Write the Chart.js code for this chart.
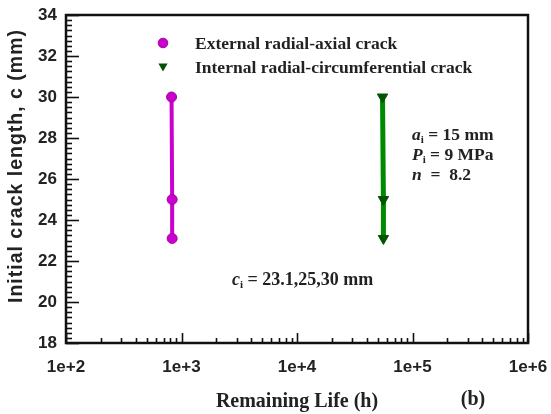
<!DOCTYPE html>
<html>
<head>
<meta charset="utf-8">
<script src="https://cdn.jsdelivr.net/npm/chart.js@4.4.1/dist/chart.umd.min.js"></script>
<style>
  html, body { margin: 0; padding: 0; background: #ffffff; }
  #wrap { width: 551px; height: 414px; }
</style>
</head>
<body>
<div id="wrap"><canvas id="c" width="551" height="414"></canvas></div>
<script>
// Remaining life (h) for each initial crack length c_i (mm)
const crackLengths = [30, 25, 23.1];
const externalLife = [820, 830, 830];
const internalLife = [55000, 56000, 56000];

const seriesNames = ['External radial-axial crack', 'Internal radial-circumferential crack'];
const yTickValues = [18, 20, 22, 24, 26, 28, 30, 32, 34];
const xDecades = [100, 1000, 10000, 100000, 1000000];

const SANS = '"Liberation Sans", Arial, sans-serif';
const SERIF = '"Liberation Serif", "Times New Roman", serif';

function toPoints(xs) {
  return xs.map((x, i) => ({ x: x, y: crackLengths[i] }));
}

// every decade plus its 2..9 subdivisions on the log axis
function logTickValues() {
  const out = [];
  for (let d = 0; d < xDecades.length; d++) {
    const base = xDecades[d];
    out.push(base);
    if (d < xDecades.length - 1) {
      for (let m = 2; m <= 9; m++) out.push(base * m);
    }
  }
  return out;
}

function drawRich(ctx, parts, x, y, size) {
  // parts: [text, style] where style is 'i' italic, 's' subscript, '' normal
  let cx = x;
  ctx.textBaseline = 'middle';
  ctx.textAlign = 'left';
  parts.forEach(([txt, st]) => {
    if (st === 's') {
      ctx.font = 'bold ' + Math.round(size * 0.6) + 'px ' + SERIF;
      ctx.fillText(txt, cx, y + size * 0.28);
    } else {
      ctx.font = (st === 'i' ? 'italic bold ' : 'bold ') + size + 'px ' + SERIF;
      ctx.fillText(txt, cx, y);
    }
    cx += ctx.measureText(txt).width;
  });
}

const framePlugin = {
  id: 'frameAndTicks',
  afterDraw(chart) {
    const ctx = chart.ctx;
    const a = chart.chartArea;
    const xs = chart.scales.x;
    const ys = chart.scales.y;
    ctx.save();
    ctx.strokeStyle = '#111';
    // inward y ticks: major every 2, minor every 0.25
    ctx.lineWidth = 1.6;
    for (let i = 0; i <= 64; i++) {
      const v = 18 + i * 0.25;
      const py = Math.round(ys.getPixelForValue(v)) + 0.5;
      const len = (i % 8 === 0) ? 13 : 6;
      ctx.beginPath();
      ctx.moveTo(a.left, py);
      ctx.lineTo(a.left + len, py);
      ctx.stroke();
    }
    // inward x ticks on the log axis
    xs.ticks.forEach(t => {
      const px = Math.round(xs.getPixelForValue(t.value)) + 0.5;
      const major = xDecades.includes(t.value);
      const len = major ? 10 : 5;
      ctx.beginPath();
      ctx.moveTo(px, a.bottom);
      ctx.lineTo(px, a.bottom - len);
      ctx.stroke();
    });
    // frame
    ctx.lineWidth = 2.5;
    ctx.strokeRect(a.left, a.top, a.right - a.left, a.bottom - a.top);

    // y axis title
    ctx.save();
    ctx.translate(16.5, 166);
    ctx.rotate(-Math.PI / 2);
    ctx.fillStyle = '#222';
    ctx.font = 'bold 19.5px ' + SANS;
    ctx.letterSpacing = '1px';
    ctx.textAlign = 'center';
    ctx.textBaseline = 'middle';
    ctx.fillText('Initial crack length, c (mm)', 0, 0);
    ctx.restore();

    // legend
    const ds = chart.data.datasets;
    const lx = 163;
    const rows = [43, 67];
    ds.forEach((d, i) => {
      const y = rows[i];
      ctx.fillStyle = d.pointBackgroundColor;
      ctx.strokeStyle = d.pointBorderColor;
      ctx.lineWidth = 1;
      if (d.pointStyle === 'circle') {
        ctx.beginPath();
        ctx.arc(lx, y, 4.8, 0, Math.PI * 2);
        ctx.fill();
        ctx.stroke();
      } else {
        ctx.beginPath();
        ctx.moveTo(lx - 4.6, y - 3.5);
        ctx.lineTo(lx + 4.6, y - 3.5);
        ctx.lineTo(lx, y + 4.5);
        ctx.closePath();
        ctx.fill();
      }
      ctx.fillStyle = '#222';
      ctx.font = 'bold 17.5px ' + SERIF;
      ctx.textAlign = 'left';
      ctx.textBaseline = 'middle';
      ctx.fillText(d.label, 195, y + 1);
    });

    // parameter notes
    ctx.fillStyle = '#222';
    drawRich(ctx, [['a', 'i'], ['i', 's'], [' = 15 mm', '']], 412, 135, 17.5);
    drawRich(ctx, [['P', 'i'], ['i', 's'], [' = 9 MPa', '']], 412, 155, 17.5);
    drawRich(ctx, [['n', 'i'], ['  =  8.2', '']], 412, 175, 17.5);
    drawRich(ctx, [['c', 'i'], ['i', 's'], [' = 23.1,25,30 mm', '']], 232, 280, 18);

    // panel tag
    ctx.font = 'bold 20px ' + SERIF;
    ctx.textAlign = 'center';
    ctx.textBaseline = 'middle';
    ctx.fillText('(b)', 473, 400);
    ctx.restore();
  }
};

new Chart(document.getElementById('c'), {
  type: 'scatter',
  data: {
    datasets: [
      {
        label: seriesNames[0],
        data: toPoints(externalLife),
        showLine: true,
        borderColor: '#cc00cc',
        borderWidth: 4,
        pointStyle: 'circle',
        pointRadius: 5,
        pointBackgroundColor: '#cc00cc',
        pointBorderColor: '#a000a0',
        pointBorderWidth: 1
      },
      {
        label: seriesNames[1],
        data: toPoints(internalLife),
        showLine: true,
        borderColor: '#008a00',
        borderWidth: 5,
        pointStyle: 'triangle',
        rotation: 180,
        pointRadius: 6,
        pointBackgroundColor: '#005400',
        pointBorderColor: '#005400',
        pointBorderWidth: 1
      }
    ]
  },
  options: {
    responsive: false,
    animation: false,
    devicePixelRatio: 1,
    layout: { padding: { top: 15, right: 23, left: 0, bottom: 0 } },
    plugins: { legend: { display: false }, tooltip: { enabled: false } },
    scales: {
      x: {
        type: 'logarithmic',
        position: 'bottom',
        min: 100,
        max: 1000000,
        grid: { display: false, drawTicks: true, tickLength: 14 },
        border: { display: false },
        afterBuildTicks(scale) {
          scale.ticks = logTickValues().map(v => ({ value: v }));
        },
        afterFit(scale) { scale.height = 71; },
        ticks: {
          autoSkip: false,
          maxRotation: 0,
          padding: 0,
          color: '#222',
          font: { family: SANS, size: 17, weight: 'bold' },
          callback(v) {
            if (!xDecades.includes(v)) return '';
            return '1e+' + Math.round(Math.log10(v));
          }
        },
        title: {
          display: true,
          text: 'Remaining Life (h)',
          color: '#222',
          font: { family: SERIF, size: 20, weight: 'bold', lineHeight: 1.2 },
          padding: { top: 0, bottom: 0 }
        }
      },
      y: {
        min: 18,
        max: 34,
        grid: { display: false, drawTicks: true, tickLength: 9 },
        border: { display: false },
        afterBuildTicks(scale) {
          scale.ticks = yTickValues.map(v => ({ value: v }));
        },
        afterFit(scale) { scale.width = 66; },
        ticks: {
          padding: 0,
          color: '#222',
          font: { family: SANS, size: 17, weight: 'bold' }
        },
        title: { display: false }
      }
    }
  },
  plugins: [framePlugin]
});
</script>
</body>
</html>
